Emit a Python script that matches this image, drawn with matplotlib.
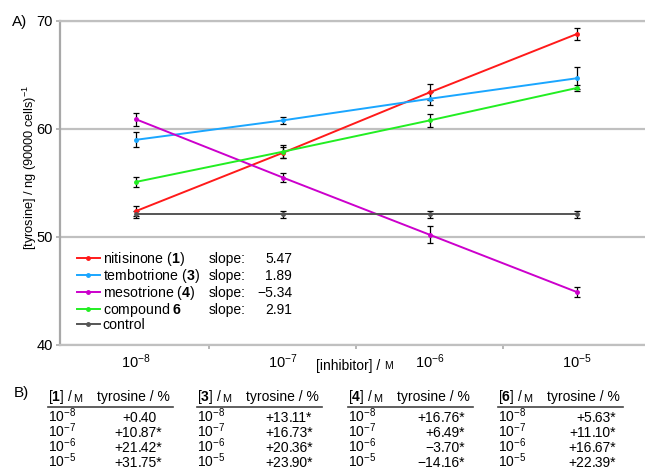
import matplotlib
matplotlib.use('Agg')
import matplotlib.pyplot as plt
from matplotlib.lines import Line2D

plt.rcParams['font.family'] = ['Liberation Sans', 'DejaVu Sans']
plt.rcParams['mathtext.fontset'] = 'custom'
plt.rcParams['mathtext.rm'] = 'Liberation Sans'
plt.rcParams['mathtext.bf'] = 'Liberation Sans:bold'
plt.rcParams['mathtext.it'] = 'Liberation Sans:italic'
plt.rcParams['mathtext.default'] = 'regular'

# ---------------- data ----------------
concentrations = ['$10^{-8}$', '$10^{-7}$', '$10^{-6}$', '$10^{-5}$']

names = ['nitisinone ($\\mathbf{1}$)', 'tembotrione ($\\mathbf{3}$)',
         'mesotrione ($\\mathbf{4}$)', 'compound $\\mathbf{6}$', 'control']
colors = ['#ff1a1a', '#1aa6ff', '#cc00cc', '#22ee22', '#555555']

nitisinone = [52.4, 57.8, 63.4, 68.8]
nitisinone_err = [0.45, 0.5, 0.75, 0.55]
tembotrione = [59.0, 60.8, 62.8, 64.7]
tembotrione_err = [0.7, 0.3, 0.6, 1.0]
mesotrione = [60.9, 55.5, 50.2, 44.9]
mesotrione_err = [0.6, 0.4, 0.8, 0.45]
compound6 = [55.1, 57.9, 60.8, 63.8]
compound6_err = [0.5, 0.6, 0.6, 0.3]
control = [52.1, 52.1, 52.1, 52.1]
control_err = [0.3, 0.3, 0.3, 0.3]

slopes = [5.47, 1.89, -5.34, 2.91]

# table B
table_ids = ['1', '3', '4', '6']
table_values = [
    [0.40, 10.87, 21.42, 31.75],
    [13.11, 16.73, 20.36, 23.90],
    [16.76, 6.49, -3.70, -14.16],
    [5.63, 11.10, 16.67, 22.39],
]
table_sig = [
    [False, True, True, True],
    [True, True, True, True],
    [True, True, True, True],
    [True, True, True, True],
]

# ---------------- figure ----------------
W, H = 645, 475
fig = plt.figure(figsize=(W / 100, H / 100), dpi=100)
ax = fig.add_axes([60 / W, 1 - 345 / H, (W - 60) / W, (345 - 21) / H])

series = [nitisinone, tembotrione, mesotrione, compound6, control]
errors = [nitisinone_err, tembotrione_err, mesotrione_err, compound6_err, control_err]
x = list(range(len(concentrations)))

handles = []
for vals, err, col in zip(series, errors, colors):
    c = ax.errorbar(x, vals, yerr=err, color=col, lw=1.4, marker='o', ms=2.5,
                    ecolor='black', elinewidth=0.9, capsize=2.2, capthick=0.9)
    handles.append(c[0])

ax.set_xlim(-0.517, 3.463)
ax.set_ylim(40, 70)
ax.set_yticks([40, 50, 60, 70])
ax.set_xticks(x)
ax.set_xticklabels(concentrations, fontsize=10.5)
ax.set_xticks([0.5, 1.5, 2.5], minor=True)
ax.tick_params(axis='x', which='major', length=0, pad=5)
ax.tick_params(axis='x', which='minor', length=3, color='#aaaaaa', width=1.2)
ax.tick_params(axis='y', length=3, color='#aaaaaa', width=1.2, pad=2, labelsize=10.5)

ax.yaxis.grid(True, color='#c0c0c0', lw=1.6)
ax.set_axisbelow(True)
ax.spines['right'].set_visible(False)
for s in ['top', 'bottom']:
    ax.spines[s].set_color('#c0c0c0')
    ax.spines[s].set_linewidth(1.6)
ax.spines['left'].set_color('#a8a8a8')
ax.spines['left'].set_linewidth(1.6)

fig.text(30 / W, 1 - 167 / H, '[tyrosine] / ng (90000 cells)$^{-1}$', fontsize=9.2,
         rotation=90, ha='center', va='center')

# x label with small-caps M
xl = fig.text(316 / W, 1 - 366 / H, '[inhibitor] / ', fontsize=10, va='center')
ax.annotate('M', xy=(1, 0), xycoords=xl, xytext=(0, 1.5), textcoords='offset points',
            fontsize=7.5, va='bottom', ha='left')

fig.text(12 / W, 1 - 22 / H, 'A)', fontsize=11, va='center')
fig.text(14 / W, 1 - 393 / H, 'B)', fontsize=11, va='center')

leg = ax.legend(handles=handles, labels=names, loc='upper left',
                bbox_to_anchor=(77 / W, 1 - 250 / H), bbox_transform=fig.transFigure,
                frameon=False, borderpad=0, borderaxespad=0, handlelength=1.6,
                handletextpad=0.22, labelspacing=-0.07, fontsize=10.2)

fig.canvas.draw()
for t, s in zip(leg.get_texts()[:4], slopes):
    bb = t.get_window_extent()
    yc = (bb.y0 + bb.y1) / 2 / H
    fig.text(209 / W, yc, 'slope:', fontsize=10, va='center')
    fig.text(292 / W, yc, f'{s:.2f}'.replace('-', '\u2212'), fontsize=10,
             va='center', ha='right')

# ---------------- table B ----------------
table_left = [48, 197, 348, 498]
dp_x = [138, 289, 441, 592]
header_base = 401.5
row_base = [421.7, 436.7, 451.7, 466.7]
fs = 10

for k, tid in enumerate(table_ids):
    x0 = table_left[k]
    hd = fig.text(x0 / W, 1 - header_base / H, '[$\\mathbf{' + tid + '}$] / ',
                  fontsize=fs, va='baseline')
    ax.annotate('M', xy=(1, 0), xycoords=hd, xytext=(0, 1.5), textcoords='offset points',
                fontsize=7.8, va='bottom', ha='left')
    fig.text((x0 + 49) / W, 1 - header_base / H, 'tyrosine / %', fontsize=fs, va='baseline')
    fig.add_artist(Line2D([x0 / W, (x0 + 125) / W], [1 - 406.5 / H, 1 - 406.5 / H],
                          color='#444444', lw=1.2, transform=fig.transFigure))
    for r, (conc, v, sig) in enumerate(zip(concentrations, table_values[k], table_sig[k])):
        yb = 1 - row_base[r] / H
        fig.text(x0 / W, yb, conc, fontsize=fs, va='baseline')
        sign = '+' if v >= 0 else '\u2212'
        ip, fp = f'{abs(v):.2f}'.split('.')
        fig.text(dp_x[k] / W, yb, sign + ip, fontsize=fs, va='baseline', ha='right')
        fig.text(dp_x[k] / W, yb, '.' + fp + ('*' if sig else ''), fontsize=fs,
                 va='baseline', ha='left')

fig.savefig('out.png', dpi=100)
